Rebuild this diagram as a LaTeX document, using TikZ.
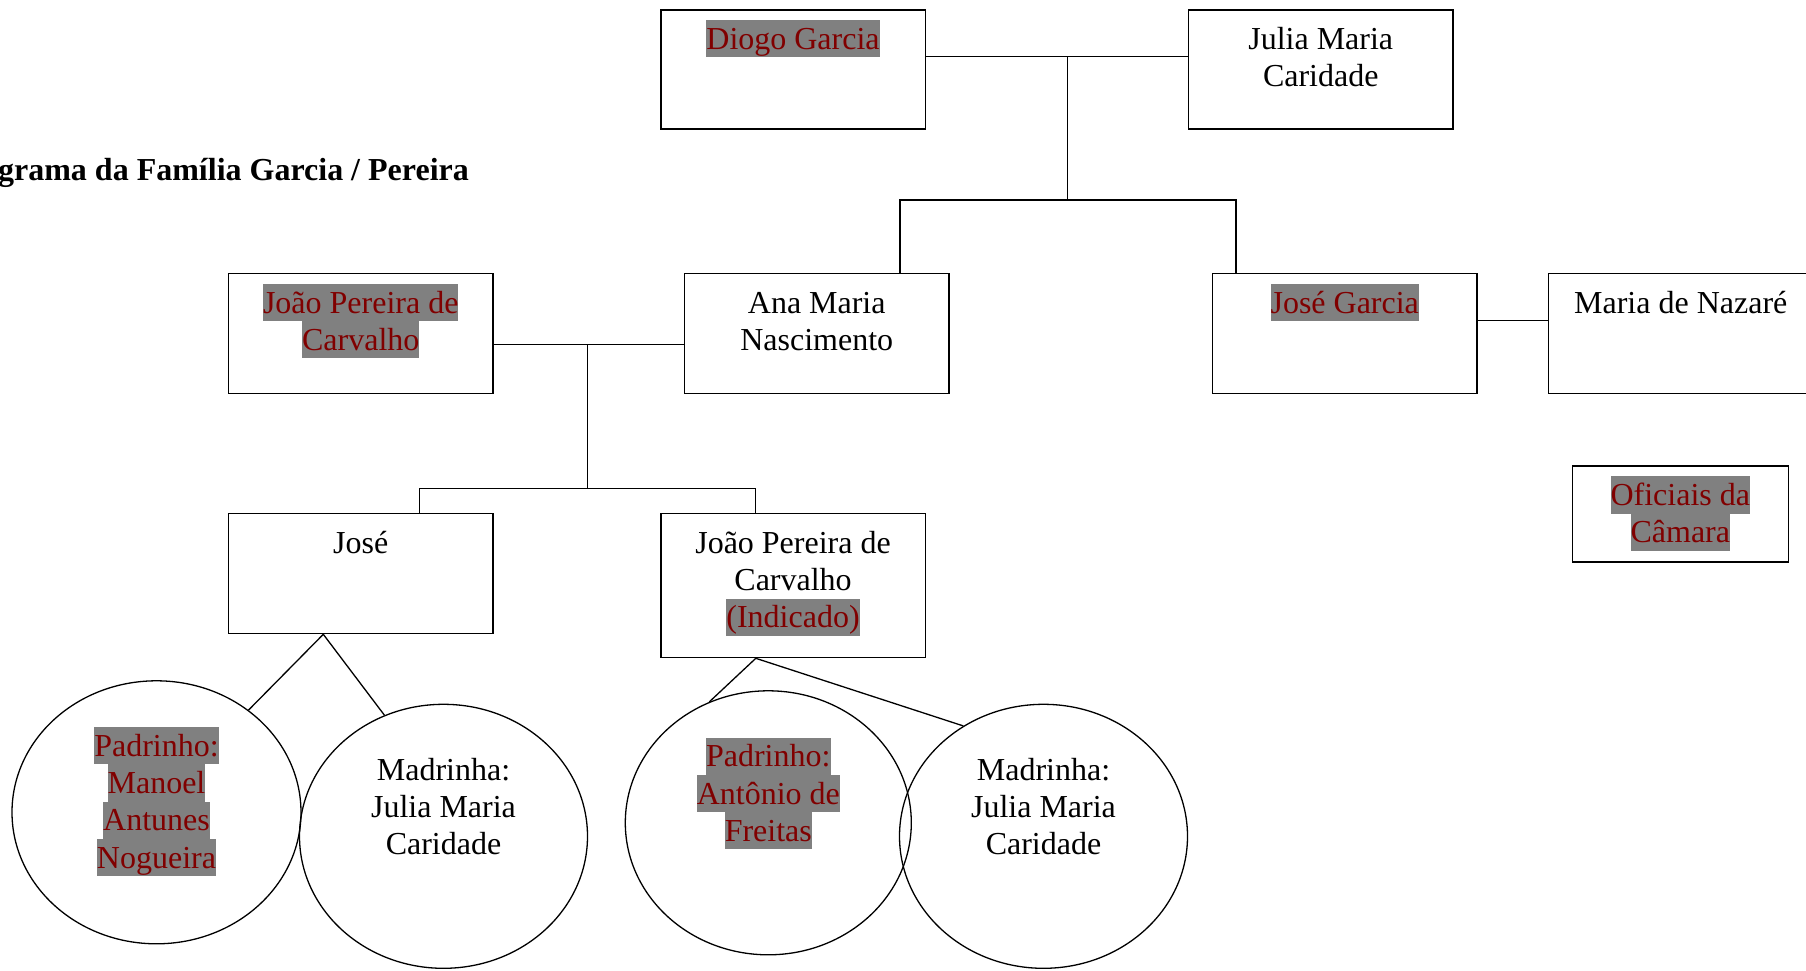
\documentclass[tikz,border=0pt]{standalone}
\usepackage{fontspec}
\setmainfont{Liberation Serif}
\usetikzlibrary{shapes.geometric}

\definecolor{markgray}{HTML}{808080}
\definecolor{markred}{HTML}{800000}

% one text line, with a strut as tall as the line spacing
\newcommand\linestrut{\rule[-7.9pt]{0pt}{37.2pt}}
\newcommand\marked[1]{{\setlength{\fboxsep}{0pt}\colorbox{markgray}{\color{markred}\linestrut #1}}}
\newcommand\plain[1]{\linestrut #1}
% text set at the top of a box of fixed size
\newcommand\boxtext[3]{\parbox[c][#2][t]{#1}{\centering\vspace*{10.5pt}#3\par}}
\newcommand\circtext[1]{\parbox[c][180pt][t]{200pt}{\centering\vspace*{4.8pt}#1\par}}

\tikzset{
  person/.style={draw, rectangle, line width=1.6pt, inner sep=0pt, anchor=north west},
  sponsor/.style={draw, ellipse, line width=1.3pt, inner sep=0pt},
  link/.style={line width=1.3pt},
}

\begin{document}
\begin{tikzpicture}[x=1pt, y=-1pt,
  every node/.style={font=\fontsize{32pt}{37.25pt}\selectfont}]
\useasboundingbox (0,0) rectangle (1806,971);

% heading
\node[anchor=base east, inner sep=0pt, font={\fontsize{32pt}{37.25pt}\selectfont\bfseries}]
  (title) at (469,180) {grama da Família Garcia / Pereira};

% people
\node[person] (diogo) at (660,9)
  {\boxtext{264.5pt}{119.5pt}{\marked{Diogo Garcia}}};
\node[person] (julia) at (1187.7,9)
  {\boxtext{264.5pt}{119.5pt}{\plain{Julia Maria}\\\plain{Caridade}}};
\node[person] (joaop) at (227.7,272.7)
  {\boxtext{264.5pt}{120pt}{\marked{João Pereira de}\\\marked{Carvalho}}};
\node[person] (ana) at (683.7,272.7)
  {\boxtext{264.5pt}{120pt}{\plain{Ana Maria}\\\plain{Nascimento}}};
\node[person] (joseg) at (1211.7,272.7)
  {\boxtext{264.5pt}{120pt}{\marked{José Garcia}}};
\node[person] (marian) at (1547.7,272.7)
  {\boxtext{264.5pt}{120pt}{\plain{Maria de Nazaré}}};
\node[person] (oficiais) at (1571.5,465)
  {\boxtext{216pt}{96pt}{\marked{Oficiais da}\\\marked{Câmara}}};
\node[person] (jose) at (227.7,512.7)
  {\boxtext{264.5pt}{120pt}{\plain{José}}};
\node[person] (joaoi) at (660,512.7)
  {\boxtext{264.5pt}{144pt}{\plain{João Pereira de}\\\plain{Carvalho}\\\marked{(Indicado)}}};

% godparents
\node[sponsor, minimum width=289pt, minimum height=263pt] (pad1) at (156.5,812.3)
  {\circtext{\marked{Padrinho:}\\\marked{Manoel}\\\marked{Antunes}\\\marked{Nogueira}}};
\node[sponsor, minimum width=288pt, minimum height=264pt] (mad1) at (443.5,836.3)
  {\circtext{\plain{Madrinha:}\\\plain{Julia Maria}\\\plain{Caridade}}};
\node[sponsor, minimum width=286pt, minimum height=264pt] (pad2) at (768.3,822.8)
  {\circtext{\marked{Padrinho:}\\\marked{Antônio de}\\\marked{Freitas}}};
\node[sponsor, minimum width=288pt, minimum height=264pt] (mad2) at (1043.5,836.3)
  {\circtext{\plain{Madrinha:}\\\plain{Julia Maria}\\\plain{Caridade}}};

% junction points
\coordinate (w1) at (1067.7,56.7);
\coordinate (k1) at (1067.7,200);
\coordinate (k1a) at (900,200);
\coordinate (k1b) at (1236,200);
\coordinate (w2) at (587.7,344.7);
\coordinate (k2) at (587.7,488.7);
\coordinate (k2a) at (419.7,488.7);
\coordinate (k2b) at (755.8,488.7);
\coordinate (w3) at (1510,320.7);
\coordinate (g1x) at (323.3,0);
\coordinate (g2x) at (755.8,0);
\coordinate (g1) at (jose.south -| g1x);
\coordinate (g2) at (joaoi.south -| g2x);

% Diogo Garcia + Julia Maria Caridade
\draw[link] (diogo.east |- w1) -- (julia.west |- w1);
\draw[link] (w1) -- (k1);
\draw[link] (ana.north -| k1a) -- (k1a) -- (k1b) -- (joseg.north -| k1b);

% João Pereira de Carvalho + Ana Maria Nascimento
\draw[link] (joaop.east |- w2) -- (ana.west |- w2);
\draw[link] (w2) -- (k2);
\draw[link] (jose.north -| k2a) -- (k2a) -- (k2b) -- (joaoi.north -| k2b);

% José Garcia + Maria de Nazaré
\draw[link] (joseg.east |- w3) -- (marian.west |- w3);

% godparents of each child
\draw[link] (pad1.48) -- (g1) -- (mad1.116);
\draw[link] (pad2.116) -- (g2) -- (mad2.126);
\end{tikzpicture}
\end{document}
